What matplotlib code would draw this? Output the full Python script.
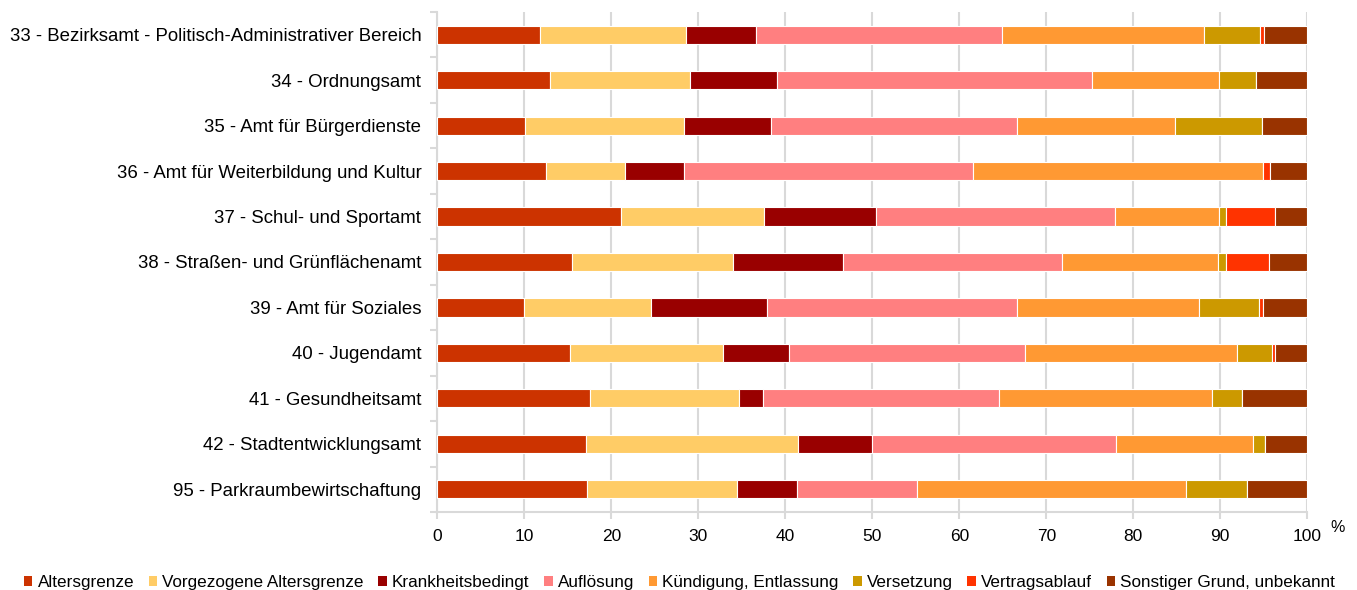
import numpy as np
import matplotlib.pyplot as plt
from matplotlib.patches import Patch

plt.rcParams['font.family'] = ['Liberation Sans', 'DejaVu Sans']

aemter = ['33 - Bezirksamt - Politisch-Administrativer Bereich', '34 - Ordnungsamt',
          '35 - Amt für Bürgerdienste', '36 - Amt für Weiterbildung und Kultur',
          '37 - Schul- und Sportamt', '38 - Straßen- und Grünflächenamt',
          '39 - Amt für Soziales', '40 - Jugendamt', '41 - Gesundheitsamt',
          '42 - Stadtentwicklungsamt', '95 - Parkraumbewirtschaftung']

gruende = ['Altersgrenze', 'Vorgezogene Altersgrenze', 'Krankheitsbedingt', 'Auflösung',
           'Kündigung, Entlassung', 'Versetzung', 'Vertragsablauf',
           'Sonstiger Grund, unbekannt']
farben = ['#CC3300', '#FFCC66', '#990000', '#FF7F80', '#FF9933', '#CC9900', '#FF3300', '#993300']

# Anteile in % je Amt (Reihenfolge wie gruende)
altersgrenze = [11.8, 13.0, 10.1, 12.5, 21.1, 15.5, 10.0, 15.2, 17.6, 17.1, 17.2]
vorgezogen   = [16.8, 16.0, 18.2, 9.1, 16.5, 18.5, 14.6, 17.6, 17.1, 24.4, 17.2]
krankheit    = [8.0, 10.1, 10.0, 6.7, 12.8, 12.6, 13.3, 7.6, 2.7, 8.5, 7.0]
aufloesung   = [28.3, 36.2, 28.3, 33.3, 27.5, 25.2, 28.7, 27.2, 27.2, 28.0, 13.7]
kuendigung   = [23.2, 14.5, 18.2, 33.3, 11.9, 17.9, 21.0, 24.3, 24.4, 15.8, 31.0]
versetzung   = [6.5, 4.3, 10.0, 0.0, 0.9, 1.0, 6.8, 4.0, 3.5, 1.3, 7.0]
vertrag      = [0.4, 0.0, 0.0, 0.8, 5.6, 4.9, 0.5, 0.4, 0.0, 0.0, 0.0]
sonstiges    = [5.0, 5.9, 5.2, 4.3, 3.7, 4.4, 5.1, 3.7, 7.5, 4.9, 6.9]

serien = [altersgrenze, vorgezogen, krankheit, aufloesung, kuendigung, versetzung, vertrag, sonstiges]

fig = plt.figure(figsize=(13.57, 5.90), dpi=100)
ax = fig.add_axes([437.3/1357, 1-512/590, 870/1357, 500/590])

y = np.arange(len(aemter))
links = np.zeros(len(aemter))
for werte, farbe, name in zip(serien, farben, gruende):
    werte = np.array(werte)
    ax.barh(y, werte, left=links, height=0.4, color=farbe, edgecolor='white',
            linewidth=0.8, label=name, zorder=3)
    links += werte

ax.set_xlim(0, 100)
ax.set_ylim(len(aemter) - 0.5, -0.5)
ax.set_xticks(np.arange(0, 101, 10))
ax.set_yticks(y)
ax.set_yticklabels(aemter, fontsize=13.4)
ax.set_yticks(np.arange(-0.5, len(aemter), 1), minor=True)
ax.tick_params(axis='y', which='major', length=0, pad=11.5)
ax.tick_params(axis='y', which='minor', length=5, color='#d9d9d9', width=1.5)
ax.tick_params(axis='x', length=5, color='#d9d9d9', width=1.5, labelsize=12.5, pad=7)
ax.grid(axis='x', color='#d9d9d9', linewidth=1.5, zorder=0)
for s in ['top', 'right']:
    ax.spines[s].set_visible(False)
for s in ['left', 'bottom']:
    ax.spines[s].set_color('#d9d9d9')
    ax.spines[s].set_linewidth(1.5)

fig.text(1338/1357, 1-528/590, '%', fontsize=11.5, ha='center', va='center')

handles = [Patch(facecolor=f, edgecolor='none') for f in farben]
fig.legend(handles, gruende, loc='center', bbox_to_anchor=(0.5007, 0.012), ncol=8,
           frameon=False, fontsize=12.3, handlelength=0.5, handleheight=0.5,
           handletextpad=0.3, columnspacing=0.85)

fig.savefig('out.png', dpi=100)
